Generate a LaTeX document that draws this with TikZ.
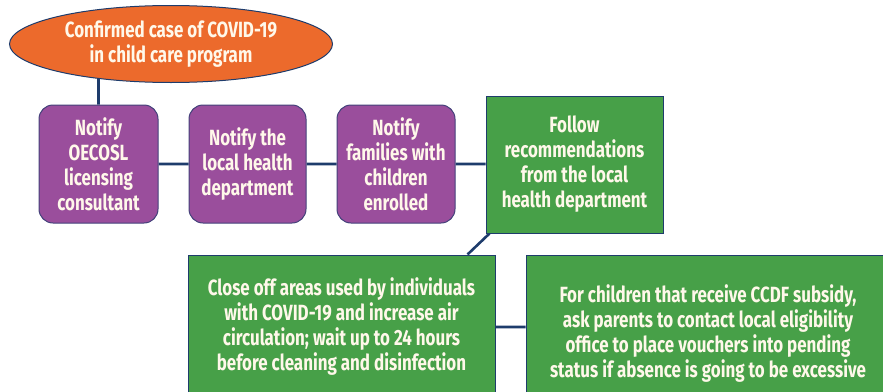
\documentclass[tikz,border=0pt]{standalone}
\usepackage{fontspec}
\setmainfont{Fira Sans}[FakeStretch=0.77]
\usetikzlibrary{shapes.geometric,backgrounds}
\definecolor{caseorange}{HTML}{EC6A2C}
\definecolor{notifypurple}{HTML}{9A4E9C}
\definecolor{actiongreen}{HTML}{47A048}
\definecolor{linknavy}{HTML}{1E3C6C}
\definecolor{textcream}{HTML}{FFF8EA}
\begin{document}
\begin{tikzpicture}[x=1pt,y=-1pt,
  box text/.style={text=textcream,align=center,font=\bfseries\fontsize{22}{25}\selectfont,inner sep=0pt},
  case node/.style={box text,ellipse,fill=caseorange,draw=linknavy,line width=1pt,minimum width=323,minimum height=77},
  notify node/.style={box text,rectangle,rounded corners=14,fill=notifypurple,draw=linknavy!70!notifypurple,line width=1pt,minimum height=118},
  action node/.style={box text,rectangle,fill=actiongreen,draw=linknavy,line width=1pt},
  link/.style={draw=linknavy,line width=2.6pt}]

  \useasboundingbox (0,0) rectangle (883,391);
  \clip (0,0) rectangle (883,391);

  \node[case node] at (171,44) (case) {Confirmed case of COVID-19\\in child care program};
  \node[notify node,minimum width=119] at (98.5,164) (oecosl) {Notify\\OECOSL\\licensing\\consultant};
  \node[notify node,minimum width=117] at (247.5,164) (health) {Notify the\\local health\\department};
  \node[notify node,minimum width=118] at (396,164) (families) {Notify\\families with\\children\\enrolled};
  \node[action node,minimum width=177,minimum height=137] at (574.5,164.5) (follow) {Follow\\recommendations\\from the local\\health department};
  \node[action node,minimum width=307,minimum height=144] at (341.5,327) (close) {Close off areas used by individuals\\with COVID-19 and increase air\\circulation; wait up to 24 hours\\before cleaning and disinfection};
  \node[action node,minimum width=364,minimum height=158] at (708,334) (ccdf) {For children that receive CCDF subsidy,\\ask parents to contact local eligibility\\office to place vouchers into pending\\status if absence is going to be excessive};

  \begin{scope}[on background layer]
  \path[link]
  (oecosl.north) -- (oecosl.north |- case.center)
  (oecosl) -- (health)
  (health) -- (families)
  (families.east) -- (families.east -| follow.west)
  ([xshift=4pt]follow.south west) -- ([xshift=-28pt]close.north east)
  (close.east) -- (close.east -| ccdf.west);
  \end{scope}
\end{tikzpicture}
\end{document}
